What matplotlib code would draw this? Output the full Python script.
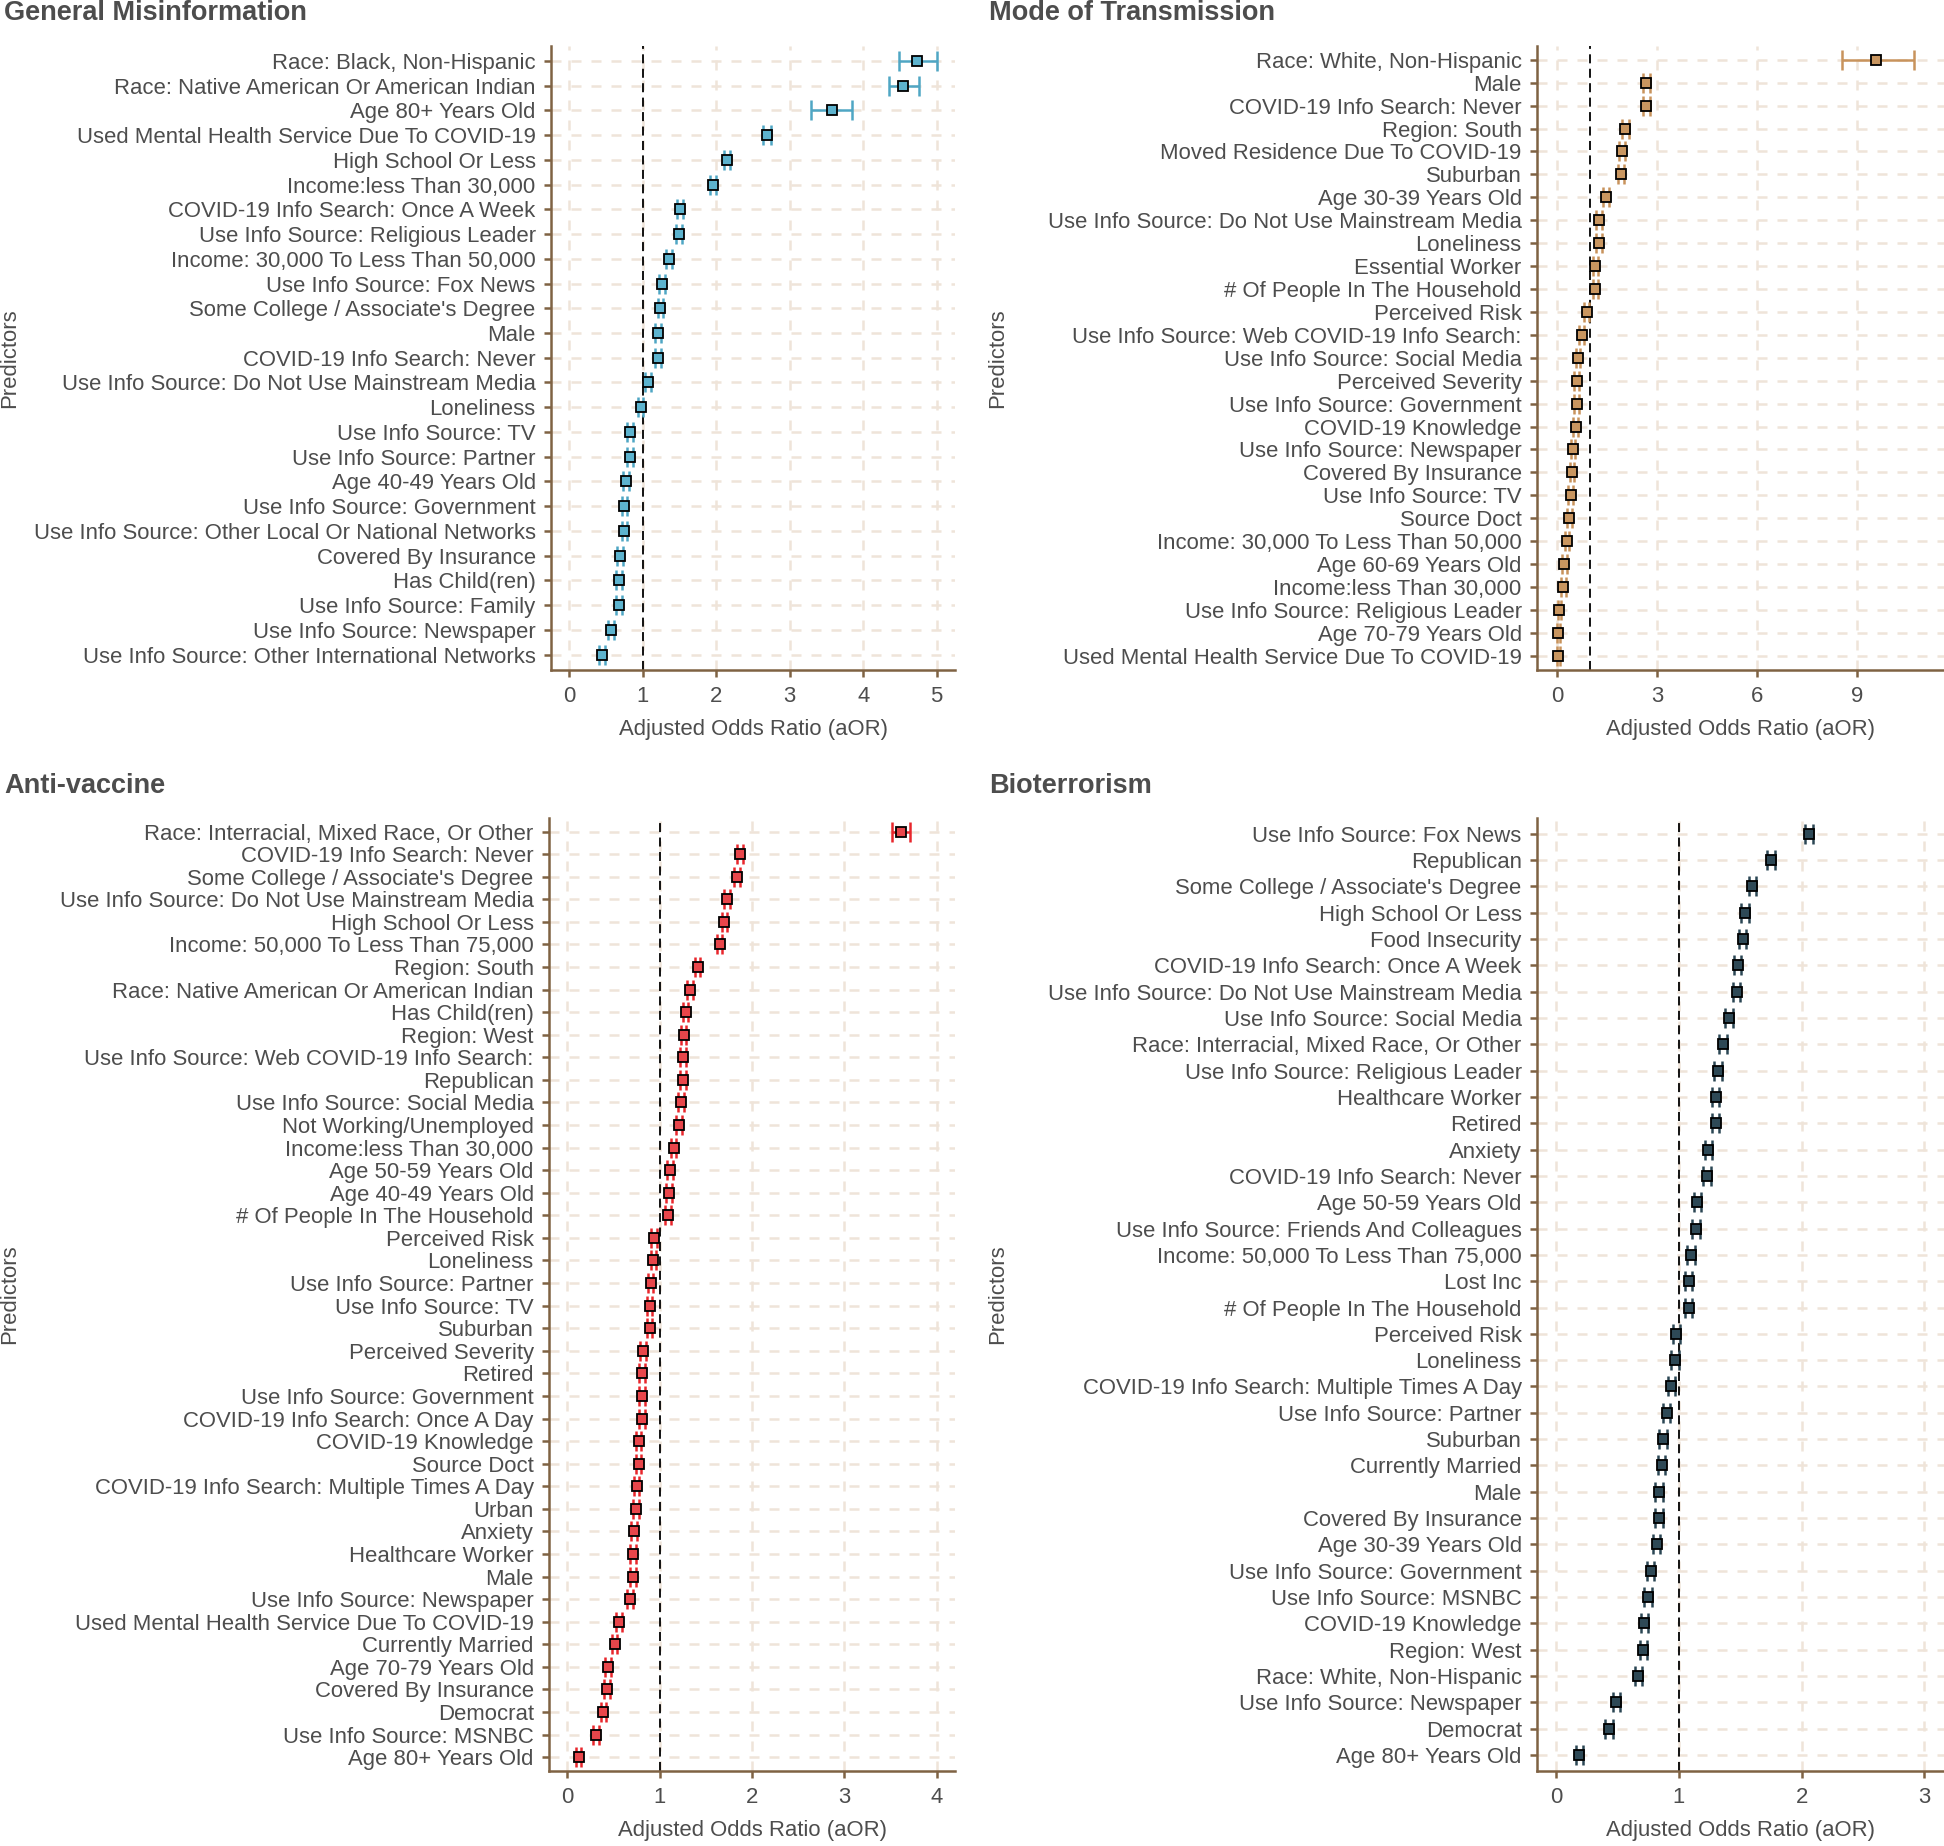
import numpy as np
import matplotlib

matplotlib.use("Agg")
import matplotlib.pyplot as plt

plt.rcParams["font.family"] = ["Liberation Sans", "DejaVu Sans"]

# ---- General Misinformation ----
gm_names = [
    "Race: Black, Non-Hispanic",
    "Race: Native American Or American Indian",
    "Age 80+ Years Old",
    "Used Mental Health Service Due To COVID-19",
    "High School Or Less",
    "Income:less Than 30,000",
    "COVID-19 Info Search: Once A Week",
    "Use Info Source: Religious Leader",
    "Income: 30,000 To Less Than 50,000",
    "Use Info Source: Fox News",
    "Some College / Associate's Degree",
    "Male",
    "COVID-19 Info Search: Never",
    "Use Info Source: Do Not Use Mainstream Media",
    "Loneliness",
    "Use Info Source: TV",
    "Use Info Source: Partner",
    "Age 40-49 Years Old",
    "Use Info Source: Government",
    "Use Info Source: Other Local Or National Networks",
    "Covered By Insurance",
    "Has Child(ren)",
    "Use Info Source: Family",
    "Use Info Source: Newspaper",
    "Use Info Source: Other International Networks",
]
gm_aor = [4.73, 4.54, 3.57, 2.69, 2.15, 1.95, 1.51, 1.49, 1.36, 1.26, 1.24, 1.21, 1.21,
          1.07, 0.97, 0.82, 0.82, 0.77, 0.75, 0.75, 0.69, 0.67, 0.67, 0.57, 0.44]
gm_lo = [4.49, 4.35, 3.29, 2.63, 2.11, 1.91, 1.47, 1.45, 1.32, 1.22, 1.20, 1.17, 1.17,
         1.03, 0.94, 0.78, 0.78, 0.73, 0.71, 0.71, 0.65, 0.63, 0.63, 0.53, 0.40]
gm_hi = [5.01, 4.76, 3.85, 2.75, 2.19, 1.99, 1.55, 1.53, 1.40, 1.30, 1.28, 1.25, 1.25,
         1.11, 1.00, 0.86, 0.86, 0.81, 0.79, 0.79, 0.73, 0.71, 0.71, 0.61, 0.48]

# ---- Mode of Transmission ----
mot_names = [
    "Race: White, Non-Hispanic",
    "Male",
    "COVID-19 Info Search: Never",
    "Region: South",
    "Moved Residence Due To COVID-19",
    "Suburban",
    "Age 30-39 Years Old",
    "Use Info Source: Do Not Use Mainstream Media",
    "Loneliness",
    "Essential Worker",
    "# Of People In The Household",
    "Perceived Risk",
    "Use Info Source: Web COVID-19 Info Search:",
    "Use Info Source: Social Media",
    "Perceived Severity",
    "Use Info Source: Government",
    "COVID-19 Knowledge",
    "Use Info Source: Newspaper",
    "Covered By Insurance",
    "Use Info Source: TV",
    "Source Doct",
    "Income: 30,000 To Less Than 50,000",
    "Age 60-69 Years Old",
    "Income:less Than 30,000",
    "Use Info Source: Religious Leader",
    "Age 70-79 Years Old",
    "Used Mental Health Service Due To COVID-19",
]
mot_aor = [9.55, 2.68, 2.68, 2.05, 1.96, 1.93, 1.47, 1.26, 1.26, 1.15, 1.15, 0.89, 0.74, 0.63,
           0.59, 0.59, 0.56, 0.48, 0.45, 0.41, 0.37, 0.30, 0.22, 0.19, 0.07, 0.04, 0.04]
mot_lo = [8.54, 2.58, 2.58, 1.95, 1.87, 1.84, 1.39, 1.18, 1.18, 1.07, 1.07, 0.82, 0.67, 0.56,
          0.52, 0.52, 0.49, 0.41, 0.38, 0.34, 0.30, 0.23, 0.15, 0.12, 0.02, 0.01, 0.01]
mot_hi = [10.69, 2.78, 2.78, 2.15, 2.05, 2.02, 1.55, 1.34, 1.34, 1.23, 1.23, 0.96, 0.81, 0.70,
          0.66, 0.66, 0.63, 0.55, 0.52, 0.48, 0.44, 0.37, 0.29, 0.26, 0.12, 0.10, 0.10]

# ---- Anti-vaccine ----
av_names = [
    "Race: Interracial, Mixed Race, Or Other",
    "COVID-19 Info Search: Never",
    "Some College / Associate's Degree",
    "Use Info Source: Do Not Use Mainstream Media",
    "High School Or Less",
    "Income: 50,000 To Less Than 75,000",
    "Region: South",
    "Race: Native American Or American Indian",
    "Has Child(ren)",
    "Region: West",
    "Use Info Source: Web COVID-19 Info Search:",
    "Republican",
    "Use Info Source: Social Media",
    "Not Working/Unemployed",
    "Income:less Than 30,000",
    "Age 50-59 Years Old",
    "Age 40-49 Years Old",
    "# Of People In The Household",
    "Perceived Risk",
    "Loneliness",
    "Use Info Source: Partner",
    "Use Info Source: TV",
    "Suburban",
    "Perceived Severity",
    "Retired",
    "Use Info Source: Government",
    "COVID-19 Info Search: Once A Day",
    "COVID-19 Knowledge",
    "Source Doct",
    "COVID-19 Info Search: Multiple Times A Day",
    "Urban",
    "Anxiety",
    "Healthcare Worker",
    "Male",
    "Use Info Source: Newspaper",
    "Used Mental Health Service Due To COVID-19",
    "Currently Married",
    "Age 70-79 Years Old",
    "Covered By Insurance",
    "Democrat",
    "Use Info Source: MSNBC",
    "Age 80+ Years Old",
]
av_aor = [3.61, 1.87, 1.84, 1.73, 1.70, 1.65, 1.41, 1.33, 1.28, 1.26, 1.25, 1.25, 1.23, 1.21,
          1.15, 1.11, 1.10, 1.09, 0.94, 0.93, 0.90, 0.89, 0.89, 0.82, 0.81, 0.81, 0.81, 0.77,
          0.77, 0.75, 0.74, 0.72, 0.71, 0.71, 0.68, 0.56, 0.51, 0.44, 0.43, 0.39, 0.31, 0.12]
av_lo = [3.52, 1.84, 1.81, 1.70, 1.67, 1.62, 1.38, 1.30, 1.25, 1.23, 1.22, 1.22, 1.20, 1.18,
         1.12, 1.08, 1.07, 1.06, 0.91, 0.90, 0.87, 0.86, 0.86, 0.79, 0.78, 0.78, 0.78, 0.74,
         0.74, 0.72, 0.71, 0.69, 0.68, 0.68, 0.65, 0.53, 0.48, 0.41, 0.40, 0.36, 0.28, 0.09]
av_hi = [3.71, 1.90, 1.87, 1.76, 1.73, 1.68, 1.44, 1.36, 1.31, 1.29, 1.28, 1.28, 1.26, 1.24,
         1.18, 1.14, 1.13, 1.12, 0.97, 0.96, 0.93, 0.92, 0.92, 0.85, 0.84, 0.84, 0.84, 0.80,
         0.80, 0.78, 0.77, 0.75, 0.74, 0.74, 0.71, 0.59, 0.54, 0.47, 0.46, 0.42, 0.34, 0.15]

# ---- Bioterrorism ----
bt_names = [
    "Use Info Source: Fox News",
    "Republican",
    "Some College / Associate's Degree",
    "High School Or Less",
    "Food Insecurity",
    "COVID-19 Info Search: Once A Week",
    "Use Info Source: Do Not Use Mainstream Media",
    "Use Info Source: Social Media",
    "Race: Interracial, Mixed Race, Or Other",
    "Use Info Source: Religious Leader",
    "Healthcare Worker",
    "Retired",
    "Anxiety",
    "COVID-19 Info Search: Never",
    "Age 50-59 Years Old",
    "Use Info Source: Friends And Colleagues",
    "Income: 50,000 To Less Than 75,000",
    "Lost Inc",
    "# Of People In The Household",
    "Perceived Risk",
    "Loneliness",
    "COVID-19 Info Search: Multiple Times A Day",
    "Use Info Source: Partner",
    "Suburban",
    "Currently Married",
    "Male",
    "Covered By Insurance",
    "Age 30-39 Years Old",
    "Use Info Source: Government",
    "Use Info Source: MSNBC",
    "COVID-19 Knowledge",
    "Region: West",
    "Race: White, Non-Hispanic",
    "Use Info Source: Newspaper",
    "Democrat",
    "Age 80+ Years Old",
]
bt_aor = [2.06, 1.75, 1.60, 1.54, 1.52, 1.48, 1.47, 1.41, 1.36, 1.32, 1.30, 1.30, 1.24, 1.23,
          1.15, 1.14, 1.10, 1.08, 1.08, 0.98, 0.97, 0.94, 0.90, 0.87, 0.86, 0.84, 0.84, 0.82,
          0.77, 0.75, 0.72, 0.71, 0.67, 0.49, 0.43, 0.19]
bt_lo = [2.03, 1.72, 1.57, 1.51, 1.49, 1.45, 1.44, 1.38, 1.33, 1.29, 1.27, 1.27, 1.21, 1.20,
         1.12, 1.11, 1.07, 1.05, 1.05, 0.95, 0.94, 0.91, 0.87, 0.84, 0.83, 0.81, 0.81, 0.79,
         0.74, 0.72, 0.69, 0.68, 0.64, 0.46, 0.40, 0.16]
bt_hi = [2.09, 1.78, 1.63, 1.57, 1.55, 1.51, 1.50, 1.44, 1.39, 1.35, 1.33, 1.33, 1.27, 1.26,
         1.18, 1.17, 1.13, 1.11, 1.11, 1.01, 1.00, 0.97, 0.93, 0.90, 0.89, 0.87, 0.87, 0.85,
         0.80, 0.78, 0.75, 0.74, 0.70, 0.52, 0.46, 0.22]

W, H = 1944, 1846
TEXT = "#4D4D4D"
SPINE = "#7F6243"
GRID = "#EFE4D9"
FS = 15.9


def px_rect(left, top, right, bottom):
    return [left / W, 1 - bottom / H, (right - left) / W, (bottom - top) / H]


def draw_panel(fig, rect, names, aor, lo, hi, ecolor, fill, xlim, xticks):
    ax = fig.add_axes(rect)
    n = len(names)
    y = np.arange(n, 0, -1)
    aor = np.array(aor)
    err = [aor - np.array(lo), np.array(hi) - aor]

    ax.set_axisbelow(True)
    ax.grid(True, color=GRID, lw=1.8, linestyle=(0, (4, 4)))
    ax.axvline(1, color="black", lw=1.3, linestyle=(0, (5, 3)), zorder=2)
    ax.errorbar(aor, y, xerr=err, fmt="none", ecolor=ecolor, elinewidth=1.8,
                capsize=7, capthick=1.8, zorder=3)
    ax.plot(aor, y, "s", ms=7.5, mfc=fill, mec="black", mew=1.3, zorder=4)

    ax.set_yticks(y)
    ax.set_yticklabels(names)
    ax.set_xticks(xticks)
    ax.set_xlim(*xlim)
    ax.set_ylim(0.4, n + 0.6)
    for s in ("top", "right"):
        ax.spines[s].set_visible(False)
    for s in ("left", "bottom"):
        ax.spines[s].set_color(SPINE)
        ax.spines[s].set_linewidth(1.8)
    ax.tick_params(axis="both", colors=SPINE, length=5, width=1.8,
                   labelcolor=TEXT, labelsize=FS)
    ax.tick_params(axis="y", pad=6)
    ax.tick_params(axis="x", pad=7)
    return ax


fig = plt.figure(figsize=(W / 100, H / 100), dpi=100)

panels = [
    ("General Misinformation", gm_names, gm_aor, gm_lo, gm_hi, "#4FA6C4", "#5DB3CE",
     (-0.25, 5.25), [0, 1, 2, 3, 4, 5], (551, 46, 955, 669.5), (4, 13), 10),
    ("Mode of Transmission", mot_names, mot_aor, mot_lo, mot_hi, "#C8935C", "#C99660",
     (-0.6, 11.6), [0, 3, 6, 9], (1537, 46, 1944, 669.5), (989, 13), 998),
    ("Anti-vaccine", av_names, av_aor, av_lo, av_hi, "#E8262C", "#E8464B",
     (-0.2, 4.2), [0, 1, 2, 3, 4], (549, 818, 955, 1770.7), (4, 786), 10),
    ("Bioterrorism", bt_names, bt_aor, bt_lo, bt_hi, "#2B4654", "#2E4956",
     (-0.155, 3.16), [0, 1, 2, 3], (1537, 818, 1944, 1770.7), (989, 786), 998),
]

for title, names, aor, lo, hi, ec, fc, xlim, xt, box, tpos, ylab_x in panels:
    l, t, r, b = box
    draw_panel(fig, px_rect(l, t, r, b), names, aor, lo, hi, ec, fc, xlim, xt)
    fig.text(tpos[0] / W, 1 - tpos[1] / H, title, fontsize=19.5, fontweight="bold",
             color=TEXT, ha="left", va="center")
    fig.text(ylab_x / W, 1 - (t + b) / 2 / H, "Predictors", rotation=90, fontsize=FS,
             color=TEXT, ha="center", va="center")
    fig.text((l + r) / 2 / W, 1 - (b + 60) / H, "Adjusted Odds Ratio (aOR)", fontsize=FS,
             color=TEXT, ha="center", va="center")

fig.savefig("out.png", dpi=100)
